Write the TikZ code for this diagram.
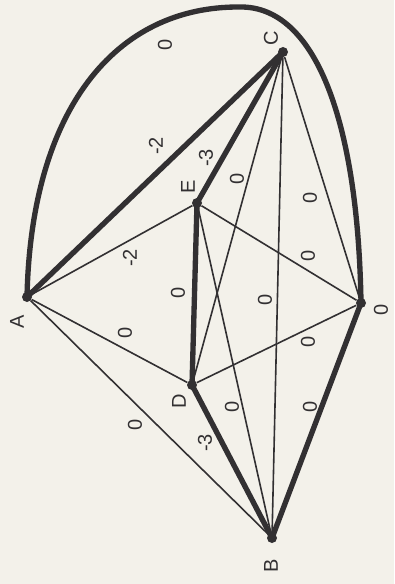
\documentclass[tikz,border=0pt]{standalone}
\usepackage{fontspec}
\setmainfont{Liberation Sans}
\usepackage{tikz}
\usetikzlibrary{calc,positioning}

\definecolor{paper}{RGB}{243,241,234}
\definecolor{ink}{RGB}{50,48,50}

\begin{document}
\begin{tikzpicture}[x=0.75pt, y=-0.75pt,
    every node/.style={font=\fontsize{15}{17}\selectfont, text=ink, rotate=90},
    vertex/.style={circle, fill=ink, inner sep=0pt, minimum size=7.5pt},
    heavy/.style={draw=ink, line width=4pt, line cap=round},
    light/.style={draw=ink, line width=1.2pt}]
    \fill[paper] (0,0) rectangle (394,584);
    \useasboundingbox (0,0) rectangle (394,584);

    % vertices
    \node[vertex] (C) at (283,52) {};
    \node[vertex] (E) at (197,203) {};
    \node[vertex] (A) at (27,297) {};
    \node[vertex] (D) at (192,385) {};
    \node[vertex] (O) at (361,303) {};
    \node[vertex] (B) at (272,538) {};

    % thin edges
    \draw[light] (A) -- (E);
    \draw[light] (A) -- (D);
    \draw[light] (A) -- (B);
    \draw[light] (E) -- (O);
    \draw[light] (D) -- (O);
    \draw[light] (C) -- (O);
    \draw[light] (C) -- (B);
    \draw[light] (C) -- (D);
    \draw[light] (E) -- (B);

    % thick edges
    \draw[heavy] (A.center) -- (C.center);
    \draw[heavy] (C.center) -- (E.center);
    \draw[heavy] (E.center) -- (D.center);
    \draw[heavy] (D.center) -- (B.center);
    \draw[heavy] (B.center) -- (O.center);
    \draw[heavy] (A.center) .. controls (31,110) and (115,6) .. (240,7)
                 .. controls (315,6) and (358,120) .. (O.center);

    % vertex labels
    \node (lC) at (271,38) {C};
    \node (lE) at (188,187) {E};
    \node (lA) at (17,322) {A};
    \node (lD) at (179,401) {D};
    \node (lB) at (271,566) {B};
    \node (lO) at (381,310) {0};

    % edge weights
    \node at (165,45) {0};
    \node at (156,146) {-2};
    \node at (206,158) {-3};
    \node at (237,179) {0};
    \node at (310,198) {0};
    \node at (130,258) {-2};
    \node at (308,256) {0};
    \node at (265,300) {0};
    \node at (178,293) {0};
    \node at (308,342) {0};
    \node at (125,333) {0};
    \node at (135,425) {0};
    \node at (205,443) {-3};
    \node at (232,407) {0};
    \node at (310,407) {0};
\end{tikzpicture}
\end{document}
